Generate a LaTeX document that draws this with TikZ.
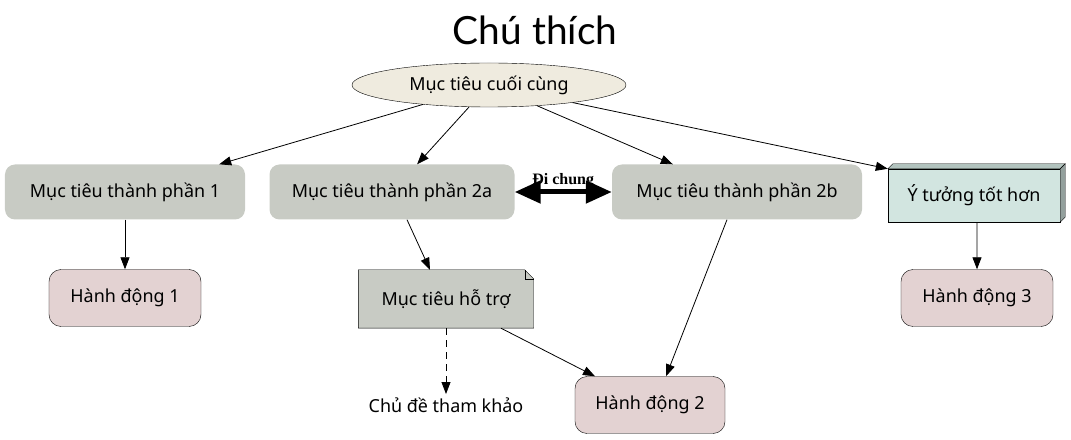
\documentclass[tikz,border=0pt]{standalone}
\usepackage{fontspec}
\setmainfont{Noto Sans}
\newfontfamily\titlefont{Lato}
\newfontfamily\labelfont{Liberation Serif}
\usetikzlibrary{shapes.geometric,arrows.meta,positioning,calc}
\definecolor{goalcolor}{RGB}{239,235,223}
\definecolor{partcolor}{RGB}{200,203,196}
\definecolor{actcolor}{RGB}{227,210,210}
\definecolor{ideacolor}{RGB}{210,229,224}

\begin{document}
\begin{tikzpicture}[
    x=1bp, y=-1bp,
    font=\fontsize{18}{21}\selectfont,
    part/.style={rectangle, rounded corners=10bp, fill=partcolor, minimum width=240bp, minimum height=55bp, text centered},
    action/.style={rectangle, draw, rounded corners=12bp, fill=actcolor, minimum width=152bp, minimum height=57bp, text centered},
    arrow/.style={-{Triangle[length=12bp,width=9bp]}, line width=0.8bp},
    bigarrow/.style={{Triangle[length=26bp,width=22bp]}-{Triangle[length=26bp,width=22bp]}, line width=5bp}
]
\useasboundingbox (0,0) rectangle (1071,440);

% Title and main goal
\node[font=\titlefont\fontsize{39}{45}\selectfont] (title) at (535,30) {Chú thích};
\node[ellipse, draw, fill=goalcolor, minimum width=274bp, minimum height=44bp, inner sep=0pt] (goal) at (489,85) {Mục tiêu cuối cùng};

% Row 1: component goals
\node[part] (part1) at (125,192) {Mục tiêu thành phần 1};
\node[part, minimum width=245bp] (part2a) at (392,192) {Mục tiêu thành phần 2a};
\node[part, minimum width=250bp] (part2b) at (737,192) {Mục tiêu thành phần 2b};
\node[rectangle, draw, fill=ideacolor, minimum width=172bp, minimum height=53bp] (idea) at (974,195.5) {Ý tưởng tốt hơn};
\draw[fill=ideacolor!85!black] (idea.north west) -- ++(5,-5) -- ($(idea.north east)+(5,-5)$) -- (idea.north east) -- cycle;
\draw[fill=ideacolor!70!black] (idea.north east) -- ++(5,-5) -- ($(idea.south east)+(5,-5)$) -- (idea.south east) -- cycle;

% Row 2: actions and support
\node[action] (act1) at (125,298) {Hành động 1};
\node[rectangle, minimum width=175bp, minimum height=58bp] (support) at (446,299) {};
\draw[fill=partcolor] (support.south west) -- (support.north west) -- ($(support.north east)+(-9,0)$) -- ($(support.north east)+(0,9)$) -- (support.south east) -- cycle;
\draw ($(support.north east)+(-9,0)$) |- ($(support.north east)+(0,9)$);
\node at (support) {Mục tiêu hỗ trợ};
\node[action] (act3) at (977,298) {Hành động 3};

% Row 3
\node (topic) at (446,405) {Chủ đề tham khảo};
\node[action, minimum width=150bp] (act2) at (650,405) {Hành động 2};

% Arrows
\draw[arrow] (goal) -- (part1);
\draw[arrow] (goal) -- (part2a);
\draw[arrow] (goal) -- (part2b);
\draw[arrow] (goal) -- (idea.north west);
\draw[arrow] (part1) -- (act1);
\draw[arrow] ([xshift=15bp]part2a.south) -- ([xshift=-16bp]support.north);
\draw[bigarrow] (part2a) -- node[above=-2bp, font=\labelfont\bfseries\fontsize{16}{18}\selectfont] {Đi chung} (part2b);
\draw[arrow, dash pattern=on 7bp off 5bp] (support) -- (topic);
\draw[arrow] ([xshift=55bp]support.south) -- ([xshift=-55bp]act2.north);
\draw[arrow] ([xshift=-10bp]part2b.south) -- ([xshift=16bp]act2.north);
\draw[arrow] ([xshift=3bp]idea.south) -- (act3);

\end{tikzpicture}
\end{document}
